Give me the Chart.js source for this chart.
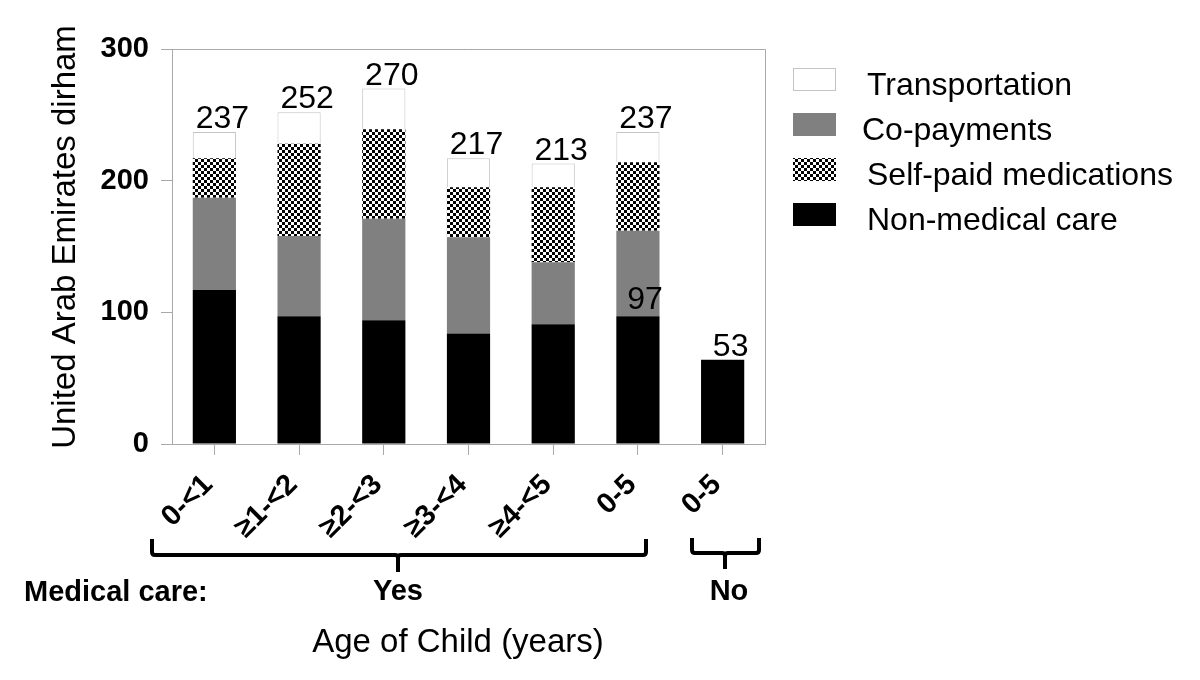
<!DOCTYPE html>
<html>
<head>
<meta charset="utf-8">
<script src="https://cdn.jsdelivr.net/npm/chart.js@4.4.1/dist/chart.umd.min.js"></script>
<style>
html,body{margin:0;padding:0;background:#fff;}
canvas{display:block;}
</style>
</head>
<body>
<canvas id="chart" width="1200" height="680"></canvas>
<script>
// ---- data ----
const categories = ["0-<1", "\u22651-<2", "\u22652-<3", "\u22653-<4", "\u22654-<5", "0-5", "0-5"];
const nonMedicalCare = [117, 97, 94, 84, 91, 97, 64];
const coPayments = [70, 61, 77, 73, 47, 65, null];
const selfPaidMedications = [30, 70, 68, 38, 57, 52, null];
const transportation = [20, 24, 31, 22, 18, 23, null];
const topLabels = ["237", "252", "270", "217", "213", "237", "53"];
const nonMedicalLabels = ["", "", "", "", "", "97", ""];
const yTicks = [0, 100, 200, 300];
const seriesNames = ["Non-medical care", "Co-payments", "Self-paid medications", "Transportation"];

// ---- styling ----
const FONT = "'Liberation Sans', Arial, sans-serif";
const AXIS_GRAY = "#a9a9a9";

function checkerPattern() {
  const c = document.createElement('canvas');
  c.width = 6; c.height = 6;
  const g = c.getContext('2d');
  g.fillStyle = '#fff'; g.fillRect(0, 0, 6, 6);
  g.fillStyle = '#000';
  g.fillRect(0, 0, 3, 3);
  g.fillRect(3, 3, 3, 3);
  return g.createPattern(c, 'repeat');
}
const checker = checkerPattern();

const fills = ['#000000', '#808080', checker, '#ffffff'];
const borders = ['#000000', '#808080', '#000000', '#c4c4c4'];
const borderWidths = [0, 0, 0, 1];
const seriesData = [nonMedicalCare, coPayments, selfPaidMedications, transportation];

const datasets = seriesData.map((d, i) => ({
  label: seriesNames[i],
  data: d,
  backgroundColor: fills[i],
  borderColor: borders[i],
  borderWidth: borderWidths[i],
  barPercentage: 0.51,
  categoryPercentage: 1.0,
  stack: 's'
}));

// frame (top + right border)
const framePlugin = {
  id: 'frame',
  afterDraw(chart) {
    const {ctx, chartArea: a} = chart;
    ctx.save();
    ctx.strokeStyle = AXIS_GRAY;
    ctx.lineWidth = 1;
    ctx.beginPath();
    ctx.moveTo(a.left, a.top + 0.5);
    ctx.lineTo(a.right + 0.5, a.top + 0.5);
    ctx.lineTo(a.right + 0.5, a.bottom);
    ctx.stroke();
    ctx.restore();
  }
};

// value labels
const labelPlugin = {
  id: 'valueLabels',
  afterDatasetsDraw(chart) {
    const {ctx} = chart;
    ctx.save();
    ctx.fillStyle = '#000';
    ctx.font = `32px ${FONT}`;
    ctx.textAlign = 'center';
    ctx.textBaseline = 'alphabetic';
    categories.forEach((_, j) => {
      let topEl = null;
      for (let i = seriesData.length - 1; i >= 0; i--) {
        if (seriesData[i][j] !== null && seriesData[i][j] !== undefined) {
          topEl = chart.getDatasetMeta(i).data[j];
          break;
        }
      }
      if (topEl && topLabels[j]) {
        ctx.fillText(topLabels[j], topEl.x + 8, topEl.y - 4);
      }
      if (nonMedicalLabels[j]) {
        const el = chart.getDatasetMeta(0).data[j];
        ctx.fillText(nonMedicalLabels[j], el.x + 7, el.y - 7);
      }
    });
    ctx.restore();
  }
};

// legend (top to bottom: Transportation, Co-payments, Self-paid, Non-medical)
const legendPlugin = {
  id: 'customLegend',
  afterDraw(chart) {
    const {ctx} = chart;
    ctx.save();
    const boxX = 793, boxW = 43, boxH = 23, textX = 867;
    const order = [3, 1, 2, 0];
    order.forEach((di, r) => {
      const top = 68 + r * 45;
      ctx.fillStyle = fills[di];
      ctx.fillRect(boxX, top, boxW, boxH);
      if (di === 3) {
        ctx.strokeStyle = '#c4c4c4';
        ctx.lineWidth = 1;
        ctx.strokeRect(boxX + 0.5, top + 0.5, boxW - 1, boxH - 1);
      }
      ctx.fillStyle = '#000';
      ctx.font = `32px ${FONT}`;
      ctx.textAlign = 'left';
      ctx.textBaseline = 'alphabetic';
      ctx.fillText(seriesNames[di], di === 1 ? textX - 5 : textX, top + 27);
    });
    ctx.restore();
  }
};

// group brackets, group labels and axis titles
function drawBracket(ctx, left, right, top, lineY, stemX, stemBottom) {
  const r = 3;
  ctx.beginPath();
  ctx.moveTo(left, top);
  ctx.lineTo(left, lineY - r);
  ctx.quadraticCurveTo(left, lineY, left + r, lineY);
  ctx.lineTo(stemX - r, lineY);
  ctx.quadraticCurveTo(stemX, lineY, stemX, lineY + r);
  ctx.lineTo(stemX, stemBottom);
  ctx.moveTo(stemX, lineY + r);
  ctx.quadraticCurveTo(stemX, lineY, stemX + r, lineY);
  ctx.lineTo(right - r, lineY);
  ctx.quadraticCurveTo(right, lineY, right, lineY - r);
  ctx.lineTo(right, top);
  ctx.stroke();
}
const groupPlugin = {
  id: 'groups',
  afterDraw(chart) {
    const {ctx} = chart;
    ctx.save();
    ctx.strokeStyle = '#000';
    ctx.lineWidth = 4;
    drawBracket(ctx, 152, 646, 539, 555, 398, 572);
    drawBracket(ctx, 692, 759, 538, 553, 725, 569);
    ctx.fillStyle = '#000';
    ctx.font = `bold 29px ${FONT}`;
    ctx.textBaseline = 'alphabetic';
    ctx.textAlign = 'left';
    ctx.fillText('Medical care:', 24, 601);
    ctx.textAlign = 'center';
    ctx.fillText('Yes', 398, 600);
    ctx.fillText('No', 729, 600);
    // x axis title
    ctx.font = `33px ${FONT}`;
    ctx.fillText('Age of Child (years)', 458, 652);
    // y axis title
    ctx.save();
    ctx.translate(75, 237);
    ctx.rotate(-Math.PI / 2);
    ctx.font = `33px ${FONT}`;
    ctx.textAlign = 'center';
    ctx.fillText('United Arab Emirates dirham', 0, 0);
    ctx.restore();
    ctx.restore();
  }
};

new Chart(document.getElementById('chart'), {
  type: 'bar',
  data: { labels: categories, datasets },
  options: {
    responsive: false,
    animation: false,
    devicePixelRatio: 1,
    layout: { padding: { left: 0, top: 49, right: 435, bottom: 0 } },
    plugins: {
      legend: { display: false },
      tooltip: { enabled: false }
    },
    scales: {
      x: {
        stacked: true,
        afterFit(s) { s.height = 236; },
        grid: { display: true, drawOnChartArea: false, drawTicks: true, tickLength: 11, offset: false, color: AXIS_GRAY, tickColor: AXIS_GRAY },
        border: { display: true, color: AXIS_GRAY, width: 1 },
        ticks: {
          autoSkip: false,
          minRotation: 45, maxRotation: 45,
          padding: 13,
          labelOffset: -6,
          color: '#000',
          font: { family: FONT, size: 29, weight: 'bold' }
        },
        title: { display: false }
      },
      y: {
        stacked: true,
        min: 0, max: 300,
        afterFit(s) { s.width = 172; },
        afterBuildTicks(s) { s.ticks = yTicks.map(v => ({ value: v })); },
        grid: { display: true, drawOnChartArea: false, drawTicks: true, tickLength: 11, color: AXIS_GRAY, tickColor: AXIS_GRAY },
        border: { display: true, color: AXIS_GRAY, width: 1 },
        ticks: {
          padding: 12,
          color: '#000',
          font: { family: FONT, size: 29, weight: 'bold' }
        },
        title: { display: false }
      }
    }
  },
  plugins: [framePlugin, labelPlugin, legendPlugin, groupPlugin]
});
</script>
</body>
</html>
